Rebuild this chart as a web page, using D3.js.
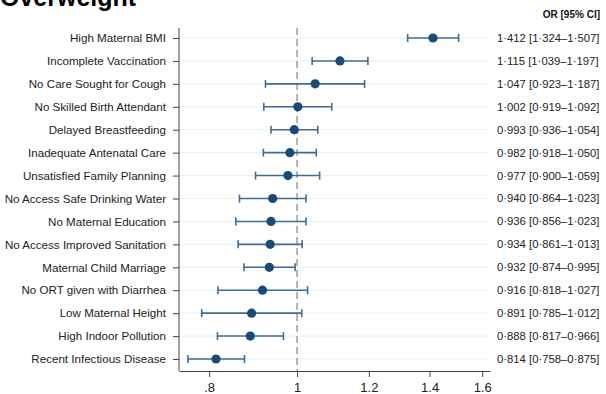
<!DOCTYPE html>
<html>
<head>
<meta charset="utf-8">
<script src="https://cdn.jsdelivr.net/npm/d3@7"></script>
<style>
	body { margin: 0; background: #fff; }
	text { font-family: "Liberation Sans", Arial, sans-serif; }
</style>
</head>
<body>
<div id="chart"></div>
<script>
/* global d3 */
var factors = [
	"High Maternal BMI", "Incomplete Vaccination", "No Care Sought for Cough",
	"No Skilled Birth Attendant", "Delayed Breastfeeding", "Inadequate Antenatal Care",
	"Unsatisfied Family Planning", "No Access Safe Drinking Water", "No Maternal Education",
	"No Access Improved Sanitation", "Maternal Child Marriage", "No ORT given with Diarrhea",
	"Low Maternal Height", "High Indoor Pollution", "Recent Infectious Disease"
];
var oddsRatio = [1.412, 1.115, 1.047, 1.002, 0.993, 0.982, 0.977, 0.940, 0.936, 0.934, 0.932, 0.916, 0.891, 0.888, 0.814];
var ciLow = [1.324, 1.039, 0.923, 0.919, 0.936, 0.918, 0.900, 0.864, 0.856, 0.861, 0.874, 0.818, 0.785, 0.817, 0.758];
var ciHigh = [1.507, 1.197, 1.187, 1.092, 1.054, 1.050, 1.059, 1.023, 1.023, 1.013, 0.995, 1.027, 1.012, 0.966, 0.875];
var xTicks = [0.8, 1, 1.2, 1.4, 1.6];
var xTickLabels = [".8", "1", "1.2", "1.4", "1.6"];

var width = 606, height = 394;
var plotLeft = 179, plotRight = 490, plotTop = 28, plotBottom = 371;

var svg = d3.select("#chart").append("svg")
	.attr("width", width)
	.attr("height", height);

var x = d3.scaleLog().domain([0.741, 1.632]).range([plotLeft, plotRight]);
var y = d3.scalePoint().domain(factors).range([38, 359]);

function fmt(v) { return v.toFixed(3).replace(".", "\u00b7"); }

// grid lines
svg.append("g").selectAll("line")
	.data(factors)
	.enter().append("line")
	.attr("x1", plotLeft).attr("x2", plotRight)
	.attr("y1", function(d){ return y(d); })
	.attr("y2", function(d){ return y(d); })
	.attr("stroke", "#e9f1f3")
	.attr("stroke-width", 1);

// reference line at OR = 1
svg.append("line")
	.attr("x1", x(1)).attr("x2", x(1))
	.attr("y1", plotTop).attr("y2", plotBottom)
	.attr("stroke", "#8c8c8c")
	.attr("stroke-width", 1.3)
	.attr("stroke-dasharray", "7,4");

// axes
var xAxis = d3.axisBottom(x)
	.tickValues(xTicks)
	.tickFormat(function(d, i){ return xTickLabels[i]; })
	.tickSize(6)
	.tickSizeOuter(0);
var gx = svg.append("g")
	.attr("transform", "translate(0," + plotBottom + ")")
	.call(xAxis);
gx.select(".domain").attr("stroke", "#444");
gx.selectAll(".tick line").attr("stroke", "#444");
gx.selectAll(".tick text")
	.attr("font-size", 13)
	.attr("fill", "#222")
	.attr("dy", "0.9em")
	.attr("font-family", "Liberation Sans, Arial, sans-serif");

var yAxis = d3.axisLeft(y).tickSize(6).tickSizeOuter(0).tickPadding(7);
var gy = svg.append("g")
	.attr("transform", "translate(" + plotLeft + ",0)")
	.call(yAxis);
gy.select(".domain").attr("d", "M0," + plotTop + "V" + plotBottom).attr("stroke", "#444");
gy.selectAll(".tick line").attr("stroke", "#444");
gy.selectAll(".tick text")
	.attr("font-size", 11.6)
	.attr("fill", "#222")
	.attr("font-family", "Liberation Sans, Arial, sans-serif");

// confidence intervals
var rows = factors.map(function(f, i){
	return { name: f, or: oddsRatio[i], lo: ciLow[i], hi: ciHigh[i] };
});
var ci = svg.append("g").selectAll("g")
	.data(rows)
	.enter().append("g")
	.attr("stroke", "#3f6b95")
	.attr("stroke-width", 1.6);
ci.append("line")
	.attr("x1", function(d){ return x(d.lo); })
	.attr("x2", function(d){ return x(d.hi); })
	.attr("y1", function(d){ return y(d.name); })
	.attr("y2", function(d){ return y(d.name); });
ci.append("line")
	.attr("x1", function(d){ return x(d.lo); })
	.attr("x2", function(d){ return x(d.lo); })
	.attr("y1", function(d){ return y(d.name) - 4; })
	.attr("y2", function(d){ return y(d.name) + 4; });
ci.append("line")
	.attr("x1", function(d){ return x(d.hi); })
	.attr("x2", function(d){ return x(d.hi); })
	.attr("y1", function(d){ return y(d.name) - 4; })
	.attr("y2", function(d){ return y(d.name) + 4; });

// point estimates
svg.append("g").selectAll("circle")
	.data(rows)
	.enter().append("circle")
	.attr("cx", function(d){ return x(d.or); })
	.attr("cy", function(d){ return y(d.name); })
	.attr("r", 4.6)
	.attr("fill", "#1b4a74");

// OR text column
svg.append("g").selectAll("text")
	.data(rows)
	.enter().append("text")
	.attr("x", 497)
	.attr("y", function(d){ return y(d.name); })
	.attr("dy", "0.35em")
	.attr("font-size", 11.3)
	.attr("fill", "#222")
	.text(function(d){ return fmt(d.or) + " [" + fmt(d.lo) + "\u2013" + fmt(d.hi) + "]"; });

svg.append("text")
	.attr("x", 600)
	.attr("y", 18)
	.attr("text-anchor", "end")
	.attr("font-size", 10)
	.attr("font-weight", "bold")
	.attr("fill", "#111")
	.text("OR [95% CI]");

// title, cut off at the top like the source
svg.append("text")
	.attr("x", 0)
	.attr("y", 6)
	.attr("font-size", 25)
	.attr("font-weight", "bold")
	.attr("fill", "#000")
	.text("Overweight");
</script>
</body>
</html>
